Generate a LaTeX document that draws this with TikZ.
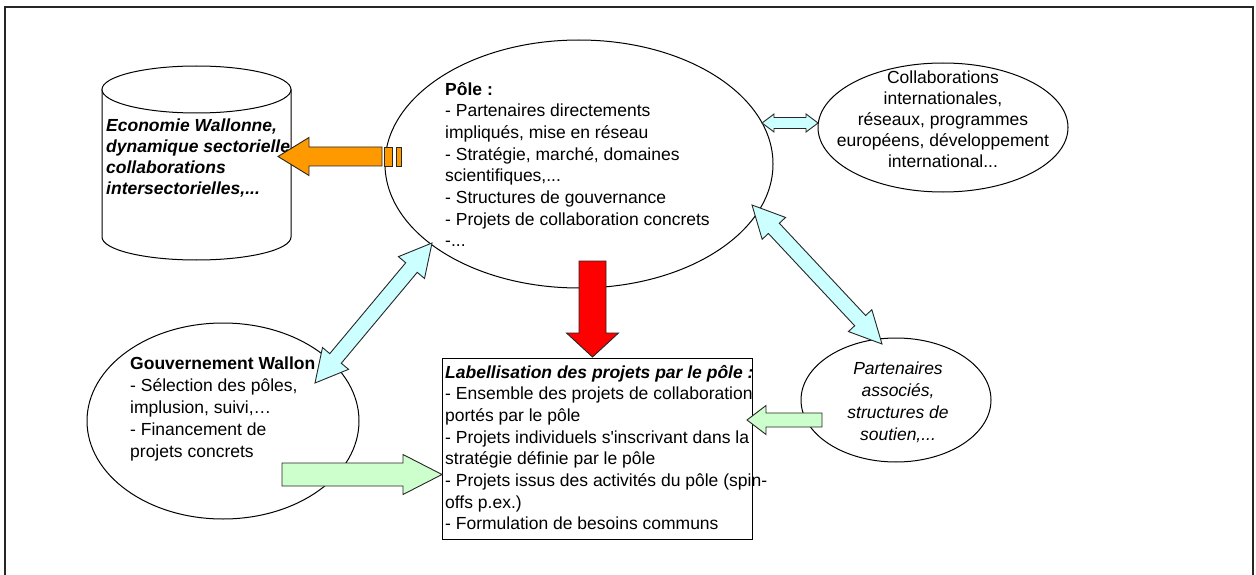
\documentclass[tikz,border=0pt]{standalone}
\usepackage{fontspec}
\setmainfont{Liberation Sans}
\newfontfamily\aposfont{Liberation Sans}
\usetikzlibrary{shapes.geometric,calc}
\definecolor{cyanfill}{HTML}{CCFFFF}
\definecolor{greenfill}{HTML}{CCFFCC}
\definecolor{orangefill}{HTML}{FF9900}
\definecolor{redfill}{HTML}{FF0000}
\tikzset{
  basefont/.style={font=\fontsize{17.5}{21.7}\selectfont},
  itfont/.style={font=\fontsize{17.5}{21.7}\selectfont\itshape},
  bifont/.style={font=\fontsize{17.5}{21}\selectfont\bfseries\itshape},
  shapeline/.style={draw=black, line width=1pt},
  blockarrow/.style={draw=black!85, line width=0.9pt, line join=miter},
  ellipsebox/.style={ellipse, shapeline, fill=white},
}
% single block arrow: #1 tail, #2 tip, #3 shaft half width, #4 head half width, #5 head length, #6 fill
\newcommand\blockarrowsingle[6]{%
  \coordinate (bahB) at ($(#2)!#5!(#1)$);
  \draw[blockarrow, fill=#6] ($(#1)!#3!90:(#2)$) -- ($(bahB)!#3!90:(#2)$) -- ($(bahB)!#4!90:(#2)$) -- (#2)
     -- ($(bahB)!#4!-90:(#2)$) -- ($(bahB)!#3!-90:(#2)$) -- ($(#1)!#3!-90:(#2)$) -- cycle;
}
% double block arrow
\newcommand\blockarrowdouble[6]{%
  \coordinate (bahA) at ($(#1)!#5!(#2)$);
  \coordinate (bahB) at ($(#2)!#5!(#1)$);
  \draw[blockarrow, fill=#6] (#1) -- ($(bahA)!#4!90:(#2)$) -- ($(bahA)!#3!90:(#2)$) -- ($(bahB)!#3!90:(#2)$)
     -- ($(bahB)!#4!90:(#2)$) -- (#2) -- ($(bahB)!#4!-90:(#2)$) -- ($(bahB)!#3!-90:(#2)$)
     -- ($(bahA)!#3!-90:(#2)$) -- ($(bahA)!#4!-90:(#2)$) -- cycle;
}
\begin{document}
\begin{tikzpicture}[x=1pt,y=-1pt, every node/.style={basefont, inner sep=0pt}]
\useasboundingbox (0,0) rectangle (1256,575);
\fill[white] (0,0) rectangle (1256,575);
% outer frame
\draw[line width=1.5pt, black!85] (5,575) -- (5,7) -- (1253,7) -- (1253,575);

% cylinder "Economie Wallonne"
\draw[shapeline, fill=white] (102,89.5) -- (102,237)
   arc[start angle=180, end angle=360, x radius=94.5pt, y radius=23pt] -- (291,89.5);
\node[ellipsebox, minimum width=189pt, minimum height=47pt] (ecotop) at (196.5,89.5) {};
\node[bifont, align=left, anchor=west] (eco) at (106,158.5)
  {Economie Wallonne,\\dynamique sectorielle\\collaborations\\intersectorielles,...};

% Pole ellipse
\node[ellipsebox, minimum width=388pt, minimum height=248pt] (pole) at (579,164) {};
\node[align=left, anchor=west] (poletxt) at (445,164.5)
  {\textbf{Pôle :}\\- Partenaires directements\\impliqués, mise en réseau\\- Stratégie, marché, domaines\\scientifiques,...\\- Structures de gouvernance\\- Projets de collaboration concrets\\-...};

% Collaborations internationales
\node[ellipsebox, minimum width=250pt, minimum height=129pt] (collab) at (943,127.5) {};
\node[align=center, font=\fontsize{17.5}{21}\selectfont] (collabtxt) at (943,119)
  {Collaborations\\internationales,\\réseaux, programmes\\européens, développement\\international...};

% Gouvernement Wallon
\node[ellipsebox, minimum width=272pt, minimum height=196pt] (gouv) at (223,421) {};
\node[align=left, anchor=west, font=\fontsize{17.5}{22}\selectfont] (gouvtxt) at (130,409)
  {\textbf{Gouvernement Wallon}\\- Sélection des pôles,\\implusion, suivi,…\\- Financement de\\projets concrets};

% Partenaires associes
\node[ellipsebox, minimum width=190pt, minimum height=124pt] (part) at (896,400) {};
\node[align=center, font=\fontsize{17.5}{22}\selectfont\itshape] (parttxt) at (898,402)
  {Partenaires\\associés,\\structures de\\soutien,...};

% Labellisation box
\node[shapeline, fill=white, minimum width=310pt, minimum height=181pt, anchor=north west] (label) at (442,358) {};
\node[align=left, anchor=west] (labeltxt) at (445,447.5)
  {\textbf{\textit{Labellisation des projets par le pôle :}}\\- Ensemble des projets de collaboration\\portés par le pôle\\- Projets individuels s{\aposfont'}inscrivant dans la\\stratégie définie par le pôle\\- Projets issus des activités du pôle (spin-\\offs p.ex.)\\- Formulation de besoins communs};

% connector end points
\coordinate (poleW) at (382,156.5);
\coordinate (ecoE) at (278,156.5);
\coordinate (poleS) at (592.5,261);
\coordinate (labelN) at (592.5,357);
\coordinate (poleSW) at (432,243);
\coordinate (gouvNE) at (315,383);
\coordinate (poleE) at (762,123);
\coordinate (collabW) at (818,123);
\coordinate (poleSE) at (752,205);
\coordinate (partNW) at (882,344);
\coordinate (partW) at (822,420);
\coordinate (labelE) at (747,420);
\coordinate (gouvE) at (282,474.5);
\coordinate (labelW) at (442,474.5);

% orange striped arrow (pole -> economie)
\blockarrowsingle{poleW}{ecoE}{9.5pt}{19pt}{31pt}{orangefill}
\draw[blockarrow, fill=orangefill] (384.5,147) rectangle (392.5,166);
\draw[blockarrow, fill=orangefill] (396,147) rectangle (401,166);

% red arrow (pole -> labellisation)
\blockarrowsingle{poleS}{labelN}{13.5pt}{26pt}{24pt}{redfill}

% cyan double arrows
\blockarrowdouble{gouvNE}{poleSW}{7.5pt}{17pt}{32pt}{cyanfill}
\blockarrowdouble{poleE}{collabW}{5.5pt}{9pt}{12pt}{cyanfill}
\blockarrowdouble{poleSE}{partNW}{7.5pt}{16pt}{32pt}{cyanfill}

% green arrows
\blockarrowsingle{partW}{labelE}{7pt}{14.5pt}{19pt}{greenfill}
\blockarrowsingle{gouvE}{labelW}{11.5pt}{20pt}{39pt}{greenfill}
\end{tikzpicture}
\end{document}
